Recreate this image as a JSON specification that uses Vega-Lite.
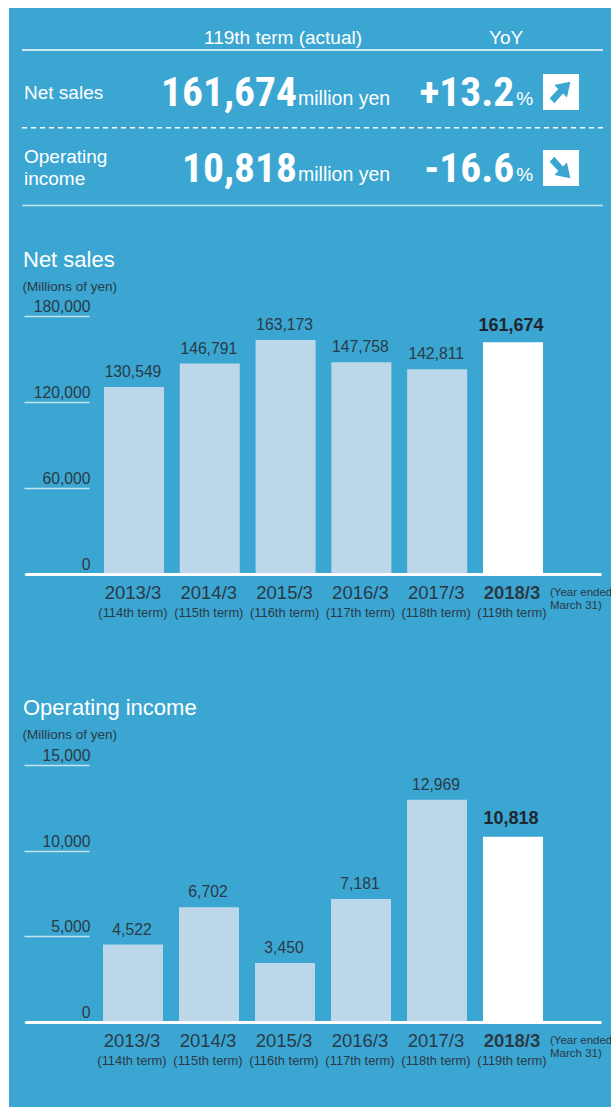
{
  "$schema": "https://vega.github.io/schema/vega-lite/v6.json",
  "background": "#ffffff",
  "padding": {"left": 9, "top": 8, "right": 0, "bottom": 0},
  "bounds": "flush",
  "spacing": 0,
  "config": {
    "font": "Liberation Sans",
    "view": {"stroke": null},
    "axis": {"grid": false},
    "title": {"font": "Liberation Sans"}
  },
  "datasets": {
    "summary": [
      {"metric": "Net sales", "label": "Net sales", "amount": "161,674", "unit": "million yen", "yoy": "+13.2", "pct": "%", "direction": "up"},
      {"metric": "Operating income", "label": "Operating\nincome", "amount": "10,818", "unit": "million yen", "yoy": "-16.6", "pct": "%", "direction": "down"}
    ],
    "lines": [
      {"line": "top", "from": "start", "to": "end", "style": "solid"},
      {"line": "mid", "from": "start", "to": "end", "style": "dashed"},
      {"line": "bottom", "from": "start", "to": "end", "style": "soft"}
    ],
    "heads": [
      {"line": "head", "col": "unit", "text": "119th term (actual)"},
      {"line": "head", "col": "pct", "text": "YoY"}
    ],
    "sales": [
      {"year": "2013/3", "term": "(114th term)", "value": 130549, "latest": false},
      {"year": "2014/3", "term": "(115th term)", "value": 146791, "latest": false},
      {"year": "2015/3", "term": "(116th term)", "value": 163173, "latest": false},
      {"year": "2016/3", "term": "(117th term)", "value": 147758, "latest": false},
      {"year": "2017/3", "term": "(118th term)", "value": 142811, "latest": false},
      {"year": "2018/3", "term": "(119th term)", "value": 161674, "latest": true, "period": "(Year ended\nMarch 31)"}
    ],
    "income": [
      {"year": "2013/3", "term": "(114th term)", "value": 4522, "latest": false},
      {"year": "2014/3", "term": "(115th term)", "value": 6702, "latest": false},
      {"year": "2015/3", "term": "(116th term)", "value": 3450, "latest": false},
      {"year": "2016/3", "term": "(117th term)", "value": 7181, "latest": false},
      {"year": "2017/3", "term": "(118th term)", "value": 12969, "latest": false},
      {"year": "2018/3", "term": "(119th term)", "value": 10818, "latest": true, "period": "(Year ended\nMarch 31)"}
    ]
  },
  "vconcat": [
    {
      "width": 602,
      "height": 214,
      "view": {"fill": "#3ba6d2", "stroke": null},
      "resolve": {"scale": {"y": "independent"}},
      "encoding": {
        "x": {
          "scale": {"type": "point", "domain": ["start", "c1", "c2", "unit", "c4", "pct", "end"], "range": [13, 594], "padding": 0},
          "axis": null
        }
      },
      "layer": [
        {
          "data": {"name": "lines"},
          "encoding": {
            "y": {
              "field": "line",
              "type": "ordinal",
              "scale": {"type": "point", "domain": ["head", "top", "upper", "mid", "lower", "bottom"], "range": [3.1, 197.5], "padding": 0},
              "axis": null
            }
          },
          "layer": [
            {
              "transform": [{"filter": "datum.style === 'solid'"}],
              "mark": {"type": "rule", "color": "#ffffff", "strokeWidth": 1.5},
              "encoding": {
                "x": {"field": "from", "type": "ordinal"},
                "x2": {"field": "to"}
              }
            },
            {
              "transform": [{"filter": "datum.style === 'dashed'"}],
              "mark": {"type": "rule", "color": "#ffffff", "strokeWidth": 1.5, "strokeDash": [5, 4]},
              "encoding": {
                "x": {"field": "from", "type": "ordinal"},
                "x2": {"field": "to"}
              }
            },
            {
              "transform": [{"filter": "datum.style === 'soft'"}],
              "mark": {"type": "rule", "color": "#c6e6f3", "strokeWidth": 1.5},
              "encoding": {
                "x": {"field": "from", "type": "ordinal"},
                "x2": {"field": "to"}
              }
            },
            {
              "data": {"name": "heads"},
              "transform": [{"filter": "datum.col === 'unit'"}],
              "mark": {"type": "text", "color": "#ffffff", "fontSize": 19, "dx": -29.5, "dy": 27, "baseline": "middle"},
              "encoding": {
                "x": {"field": "col", "type": "ordinal"},
                "text": {"field": "text"}
              }
            },
            {
              "data": {"name": "heads"},
              "transform": [{"filter": "datum.col === 'pct'"}],
              "mark": {"type": "text", "color": "#ffffff", "fontSize": 19, "dx": 0, "dy": 27, "baseline": "middle"},
              "encoding": {
                "x": {"field": "col", "type": "ordinal"},
                "text": {"field": "text"}
              }
            }
          ]
        },
        {
          "data": {"name": "summary"},
          "encoding": {
            "y": {
              "field": "metric",
              "type": "ordinal",
              "scale": {"type": "point", "domain": ["Net sales", "Operating income"], "range": [84, 160], "padding": 0},
              "axis": null
            }
          },
          "layer": [
            {
              "transform": [{"filter": "datum.metric === 'Net sales'"}],
              "mark": {"type": "text", "color": "#ffffff", "fontSize": 19, "align": "left", "dx": 2, "dy": 1, "baseline": "middle"},
              "encoding": {"x": {"datum": "start"}, "text": {"field": "label"}}
            },
            {
              "transform": [{"filter": "datum.metric === 'Operating income'"}],
              "mark": {"type": "text", "color": "#ffffff", "fontSize": 19, "align": "left", "dx": 2, "dy": -11, "baseline": "middle", "lineBreak": "\n", "lineHeight": 22},
              "encoding": {"x": {"datum": "start"}, "text": {"field": "label"}}
            },
            {
              "mark": {"type": "text", "color": "#ffffff", "font": "Roboto Condensed, Open Sans Condensed, Noto Sans Condensed, Liberation Sans", "fontWeight": "bold", "fontSize": 41.5, "align": "right", "dx": -15.5, "dy": 14, "baseline": "alphabetic"},
              "encoding": {"x": {"datum": "unit"}, "text": {"field": "amount"}}
            },
            {
              "mark": {"type": "text", "color": "#ffffff", "fontSize": 19.5, "align": "left", "dx": -14.5, "dy": 13, "baseline": "alphabetic"},
              "encoding": {"x": {"datum": "unit"}, "text": {"field": "unit"}}
            },
            {
              "mark": {"type": "text", "color": "#ffffff", "font": "Roboto Condensed, Open Sans Condensed, Noto Sans Condensed, Liberation Sans", "fontWeight": "bold", "fontSize": 41.5, "align": "right", "dx": 8, "dy": 14, "baseline": "alphabetic"},
              "encoding": {"x": {"datum": "pct"}, "text": {"field": "yoy"}}
            },
            {
              "mark": {"type": "text", "color": "#ffffff", "fontSize": 19, "align": "left", "dx": 10, "dy": 13, "baseline": "alphabetic"},
              "encoding": {"x": {"datum": "pct"}, "text": {"field": "pct"}}
            },
            {
              "mark": {"type": "point", "shape": "square", "filled": true, "opacity": 1, "color": "#ffffff", "size": 1296, "xOffset": -42},
              "encoding": {"x": {"datum": "end"}}
            },
            {
              "mark": {"type": "point", "filled": true, "opacity": 1, "color": "#3ba6d2", "size": 1296, "xOffset": -42},
              "encoding": {
                "x": {"datum": "end"},
                "shape": {
                  "field": "direction",
                  "type": "nominal",
                  "legend": null,
                  "scale": {
                    "domain": ["up", "down"],
                    "range": [
                      "M0.52,-0.57 L-0.37,-0.39 L-0.15,-0.17 L-0.63,0.35 L-0.37,0.63 L0.11,0.09 L0.33,0.31 Z",
                      "M0.52,0.57 L-0.37,0.39 L-0.15,0.17 L-0.63,-0.35 L-0.37,-0.63 L0.11,-0.09 L0.33,-0.31 Z"
                    ]
                  }
                }
              }
            }
          ]
        }
      ]
    },
    {
      "width": 602,
      "height": 448,
      "view": {"fill": "#3ba6d2", "stroke": null},
      "title": {"text": "Net sales", "anchor": "start", "frame": "group", "orient": "top", "offset": 0, "dx": 14, "dy": 67, "baseline": "alphabetic", "color": "#ffffff", "fontSize": 22, "fontWeight": "normal"},
      "data": {"name": "sales"},
      "encoding": {
        "x": {
          "field": "year",
          "type": "ordinal",
          "scale": {"type": "band", "range": [16, 592], "paddingInner": 0.208, "paddingOuter": 0.9035, "align": 0.5766},
          "axis": {
            "orient": "bottom", "offset": -96, "title": null, "labelAngle": 0, "ticks": false,
            "domainColor": "#ffffff", "domainWidth": 3, "labelColor": "#2a3a46", "labelFontSize": 18.5, "labelPadding": 9, "labelOffset": -1,
            "labelFontWeight": {"condition": {"test": "datum.value === '2018/3'", "value": "bold"}, "value": "normal"},
            "zindex": 1
          }
        },
        "y": {
          "field": "value",
          "type": "quantitative",
          "scale": {"domain": [0, 180000], "range": [352, 94], "nice": false},
          "axis": {
            "orient": "left", "offset": -80, "values": [0, 60000, 120000, 180000], "format": ",.0f",
            "domain": false, "tickSize": 65, "tickWidth": 1.5, "tickColor": "#c4e3f0",
            "labelColor": "#2a3a46", "labelFontSize": 15.7, "labelPadding": -66, "labelAlign": "right", "labelBaseline": "bottom", "labelOffset": -1.5,
            "title": "(Millions of yen)", "titleAngle": 0, "titleAlign": "left", "titleBaseline": "middle", "titleX": -67, "titleY": 64,
            "titleColor": "#2a3a46", "titleFontSize": 13.5, "titleFontWeight": "normal"
          }
        }
      },
      "layer": [
        {
          "mark": {"type": "bar"},
          "encoding": {
            "color": {
              "field": "latest",
              "type": "nominal",
              "legend": null,
              "scale": {"domain": [false, true], "range": ["#bbd7e9", "#ffffff"]}
            }
          }
        },
        {
          "transform": [{"filter": "!datum.latest"}],
          "mark": {"type": "text", "color": "#2a3a46", "fontSize": 15.7, "baseline": "bottom", "dy": -7, "dx": -1},
          "encoding": {"text": {"field": "value", "format": ","}}
        },
        {
          "transform": [{"filter": "datum.latest"}],
          "mark": {"type": "text", "color": "#1d2831", "fontSize": 18, "fontWeight": "bold", "baseline": "bottom", "dy": -7, "dx": -2},
          "encoding": {"text": {"field": "value", "format": ","}}
        },
        {
          "mark": {"type": "text", "color": "#2a3a46", "fontSize": 12.9, "baseline": "middle", "dy": 38.5, "dx": -1},
          "encoding": {"y": {"datum": 0}, "text": {"field": "term"}}
        },
        {
          "transform": [{"filter": "datum.latest"}],
          "mark": {"type": "text", "color": "#2a3a46", "fontSize": 11.5, "align": "left", "baseline": "middle", "dx": 37, "dy": 19, "lineBreak": "\n", "lineHeight": 13},
          "encoding": {"y": {"datum": 0}, "text": {"field": "period"}}
        }
      ]
    },
    {
      "width": 602,
      "height": 437,
      "view": {"fill": "#3ba6d2", "stroke": null},
      "title": {"text": "Operating income", "anchor": "start", "frame": "group", "orient": "top", "offset": 0, "dx": 14, "dy": 66.5, "baseline": "alphabetic", "color": "#ffffff", "fontSize": 22, "fontWeight": "normal"},
      "data": {"name": "income"},
      "encoding": {
        "x": {
          "field": "year",
          "type": "ordinal",
          "scale": {"type": "band", "range": [16, 592], "paddingInner": 0.2105, "paddingOuter": 0.8947, "align": 0.5735},
          "axis": {
            "orient": "bottom", "offset": -85, "title": null, "labelAngle": 0, "ticks": false,
            "domainColor": "#ffffff", "domainWidth": 3, "labelColor": "#2a3a46", "labelFontSize": 18.5, "labelPadding": 9, "labelOffset": -1,
            "labelFontWeight": {"condition": {"test": "datum.value === '2018/3'", "value": "bold"}, "value": "normal"},
            "zindex": 1
          }
        },
        "y": {
          "field": "value",
          "type": "quantitative",
          "scale": {"domain": [0, 15000], "range": [352, 95], "nice": false},
          "axis": {
            "orient": "left", "offset": -80, "values": [0, 5000, 10000, 15000], "format": ",.0f",
            "domain": false, "tickSize": 65, "tickWidth": 1.5, "tickColor": "#c4e3f0",
            "labelColor": "#2a3a46", "labelFontSize": 15.7, "labelPadding": -66, "labelAlign": "right", "labelBaseline": "bottom", "labelOffset": -1.5,
            "title": "(Millions of yen)", "titleAngle": 0, "titleAlign": "left", "titleBaseline": "middle", "titleX": -67, "titleY": 64,
            "titleColor": "#2a3a46", "titleFontSize": 13.5, "titleFontWeight": "normal"
          }
        }
      },
      "layer": [
        {
          "mark": {"type": "bar"},
          "encoding": {
            "color": {
              "field": "latest",
              "type": "nominal",
              "legend": null,
              "scale": {"domain": [false, true], "range": ["#bbd7e9", "#ffffff"]}
            }
          }
        },
        {
          "transform": [{"filter": "!datum.latest"}],
          "mark": {"type": "text", "color": "#2a3a46", "fontSize": 15.7, "baseline": "bottom", "dy": -7, "dx": -1},
          "encoding": {"text": {"field": "value", "format": ","}}
        },
        {
          "transform": [{"filter": "datum.latest"}],
          "mark": {"type": "text", "color": "#1d2831", "fontSize": 18, "fontWeight": "bold", "baseline": "bottom", "dy": -9, "dx": -2},
          "encoding": {"text": {"field": "value", "format": ","}}
        },
        {
          "mark": {"type": "text", "color": "#2a3a46", "fontSize": 12.9, "baseline": "middle", "dy": 38.5, "dx": -1},
          "encoding": {"y": {"datum": 0}, "text": {"field": "term"}}
        },
        {
          "transform": [{"filter": "datum.latest"}],
          "mark": {"type": "text", "color": "#2a3a46", "fontSize": 11.5, "align": "left", "baseline": "middle", "dx": 37, "dy": 19, "lineBreak": "\n", "lineHeight": 13},
          "encoding": {"y": {"datum": 0}, "text": {"field": "period"}}
        }
      ]
    }
  ]
}
